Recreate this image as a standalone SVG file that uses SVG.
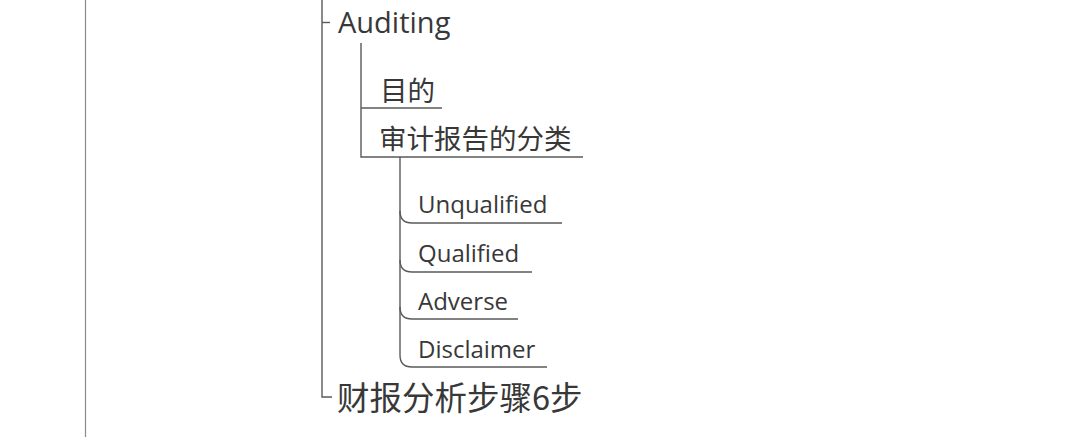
<svg xmlns="http://www.w3.org/2000/svg" width="1080" height="437" viewBox="0 0 1080 437">
<style>
.ln{fill:none;stroke:#5a5a5a;stroke-width:1.4}
.lt{fill:none;stroke:#8a8a8a;stroke-width:1.2}
.en{font-family:"Open Sans","Noto Sans",sans-serif;fill:#383838}
.zh{font-family:"Noto Sans CJK SC",sans-serif;fill:#383838}
</style>
<rect width="1080" height="437" fill="#fff"/>
<g id="connectors">
<line class="lt" x1="85.5" y1="0" x2="85.5" y2="437"/>
<path class="ln" d="M322,0 V397 H332"/>
<path class="ln" d="M322,22.5 H330"/>
<path class="ln" d="M361,43 V157 H583"/>
<path class="ln" d="M361,108 H442"/>
<path class="ln" d="M400,157 V355 Q400,367 412,367 H547"/>
<path class="ln" d="M400,211 Q400,223 412,223 H562"/>
<path class="ln" d="M400,260 Q400,272 412,272 H532"/>
<path class="ln" d="M400,307 Q400,319 412,319 H518"/>
</g>
<g id="auditing"><text class="en" x="338" y="33" font-size="29">Auditing</text></g>
<g id="mudi"><text class="zh" x="380" y="101" font-size="27.5">目的</text></g>
<g id="fenlei"><text class="zh" x="379" y="149" font-size="27.5">审计报告的分类</text></g>
<g id="unqualified"><text class="en" x="418" y="213" font-size="24">Unqualified</text></g>
<g id="qualified"><text class="en" x="418" y="262" font-size="24">Qualified</text></g>
<g id="adverse"><text class="en" x="418" y="310" font-size="24">Adverse</text></g>
<g id="disclaimer"><text class="en" x="418" y="358" font-size="24">Disclaimer</text></g>
<g id="steps"><text class="zh" x="337" y="410" font-size="32.5">财报分析步骤6步</text></g>
</svg>
